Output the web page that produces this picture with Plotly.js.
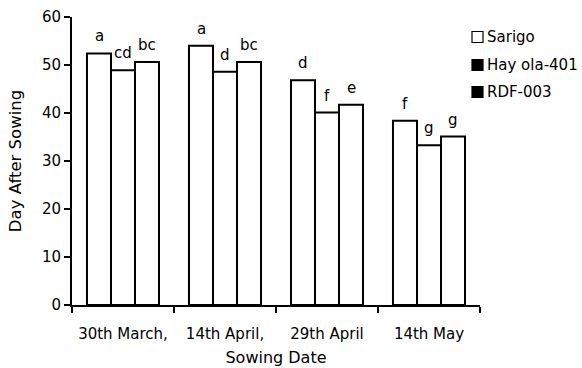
<!DOCTYPE html>
<html>
<head>
<meta charset="utf-8">
<script src="https://cdn.plot.ly/plotly-3.0.1.min.js"></script>
<style>html,body{margin:0;padding:0;background:#fff;}#chart{width:582px;height:368px;}</style>
</head>
<body>
<div id="chart"></div>
<script>
const categories = ['30th March,', '14th April,', '29th April', '14th May'];
const seriesNames = ['Sarigo', 'Hay ola-401', 'RDF-003'];
const sarigo = [52.4, 54.0, 46.8, 38.4];
const hayola = [48.9, 48.6, 40.1, 33.3];
const rdf = [50.6, 50.6, 41.7, 35.1];
const sarigoLetters = ['a', 'a', 'd', 'f'];
const hayolaLetters = ['cd', 'd', 'f', 'g'];
const rdfLetters = ['bc', 'bc', 'e', 'g'];
const legendColors = ['#ffffff', '#000000', '#000000'];

const FONT = 'DejaVu Sans, Liberation Sans, Arial, sans-serif';
const bargap = 0.294;
const seriesValues = [sarigo, hayola, rdf];
const seriesLetters = [sarigoLetters, hayolaLetters, rdfLetters];

const traces = seriesValues.map((vals, k) => ({
  type: 'bar',
  name: seriesNames[k],
  x: categories,
  y: vals,
  marker: {color: '#ffffff', line: {color: '#000000', width: 2}},
  showlegend: false,
  hoverinfo: 'skip'
}));

const barW = (1 - bargap) / 3;
const annotations = [];
seriesValues.forEach((vals, k) => {
  vals.forEach((v, i) => {
    annotations.push({
      x: i + (k - 1) * barW, y: v, xref: 'x', yref: 'y',
      text: seriesLetters[k][i], showarrow: false,
      yanchor: 'bottom', yshift: 6,
      font: {family: FONT, size: 15, color: '#000'}
    });
  });
});

// legend built from series names
const W = 582, H = 368, mL = 72, mR = 102, mT = 17, mB = 63;
const pw = W - mL - mR, ph = H - mT - mB;
const px = x => (x - mL) / pw;
const py = y => (H - mB - y) / ph;
const shapes = [];
const rowY = [37, 65, 92];
seriesNames.forEach((n, k) => {
  shapes.push({
    type: 'rect', xref: 'paper', yref: 'paper',
    x0: px(472), x1: px(483), y0: py(rowY[k] + 5.5), y1: py(rowY[k] - 5.5),
    fillcolor: legendColors[k], line: {color: '#000', width: 1.2}
  });
  annotations.push({
    x: px(485), y: py(rowY[k]), xref: 'paper', yref: 'paper',
    xanchor: 'left', yanchor: 'middle', showarrow: false,
    text: n, font: {family: FONT, size: 15, color: '#000'}
  });
});

const layout = {
  width: W, height: H,
  margin: {l: mL, r: mR, t: mT, b: mB, pad: 0},
  paper_bgcolor: '#fff', plot_bgcolor: '#fff',
  font: {family: FONT, size: 15, color: '#000'},
  barmode: 'group', bargap: bargap, bargroupgap: 0,
  showlegend: false,
  xaxis: {
    type: 'category', range: [-0.5, 3.5],
    showline: true, linecolor: '#000', linewidth: 2,
    ticks: 'outside', tickson: 'boundaries', ticklen: 6, tickwidth: 1.5, tickcolor: '#000',
    tickangle: 0, ticklabelstandoff: 14,
    showgrid: false, zeroline: false,
    tickfont: {family: FONT, size: 15, color: '#000'},
    title: {text: 'Sowing Date', font: {family: FONT, size: 16, color: '#000'}, standoff: 10}
  },
  yaxis: {
    range: [0, 60], dtick: 10, tick0: 0,
    showline: true, linecolor: '#000', linewidth: 2,
    ticks: 'outside', ticklen: 6, tickwidth: 1.5, tickcolor: '#000',
    showgrid: false, zeroline: false,
    tickfont: {family: FONT, size: 15, color: '#000'},
    title: {text: 'Day After Sowing', font: {family: FONT, size: 16.5, color: '#000'}, standoff: 16}
  },
  annotations: annotations,
  shapes: shapes
};

Plotly.newPlot('chart', traces, layout, {displayModeBar: false, staticPlot: true});
</script>
</body>
</html>
